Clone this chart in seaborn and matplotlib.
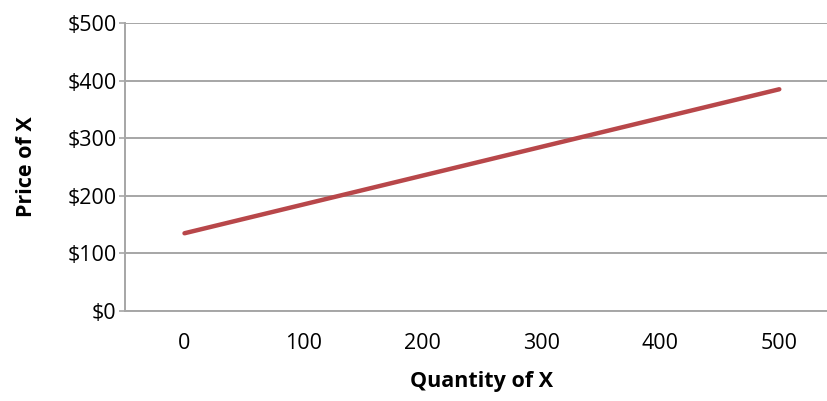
import matplotlib
matplotlib.use("Agg")
import matplotlib.pyplot as plt
import seaborn as sns
import pandas as pd
from matplotlib.ticker import FuncFormatter, FixedLocator

# data
quantity = ["0", "100", "200", "300", "400", "500"]
price = [135, 185, 235, 285, 335, 385]

df = pd.DataFrame({"Quantity": range(len(quantity)), "Price": price})

sns.set_style("white")
plt.rcParams["font.family"] = ["Open Sans", "DejaVu Sans"]

fig = plt.figure(figsize=(8.28, 4.01), dpi=100)
ax = fig.add_axes([0.151, 0.2244, 0.862, 0.7182])

sns.lineplot(data=df, x="Quantity", y="Price", color="#b8474a", linewidth=3.2, ax=ax)

ax.set_xlim(-0.5, len(quantity) - 0.5)
ax.set_ylim(0, 500)
ax.set_yticks(range(0, 501, 100))
ax.yaxis.set_major_formatter(FuncFormatter(lambda v, p: f"${int(v)}"))
ax.set_xticks(range(len(quantity)))
ax.set_xticklabels(quantity)
ax.xaxis.set_minor_locator(FixedLocator([i - 0.5 for i in range(len(quantity) + 1)]))

ax.grid(axis="y", color="#a6a6a6", linewidth=1.4)
for s in ["top", "right"]:
    ax.spines[s].set_visible(False)
for s in ["left", "bottom"]:
    ax.spines[s].set_color("#a6a6a6")
    ax.spines[s].set_linewidth(1.4)

ax.tick_params(axis="x", which="major", length=0, labelsize=15.5, pad=16, colors="black")
ax.tick_params(axis="x", which="minor", length=7, width=1.2, color="#a6a6a6", direction="out")
ax.tick_params(axis="y", length=4, width=1.2, color="#a6a6a6", labelsize=15.5, pad=2, left=True,
               labelcolor="black")

ax.set_xlabel("Quantity of X", fontsize=15.5, fontweight="bold", labelpad=12, color="black")
ax.set_ylabel("Price of X", fontsize=15.5, fontweight="bold", labelpad=22, color="black")

fig.savefig("out.png", dpi=100)
